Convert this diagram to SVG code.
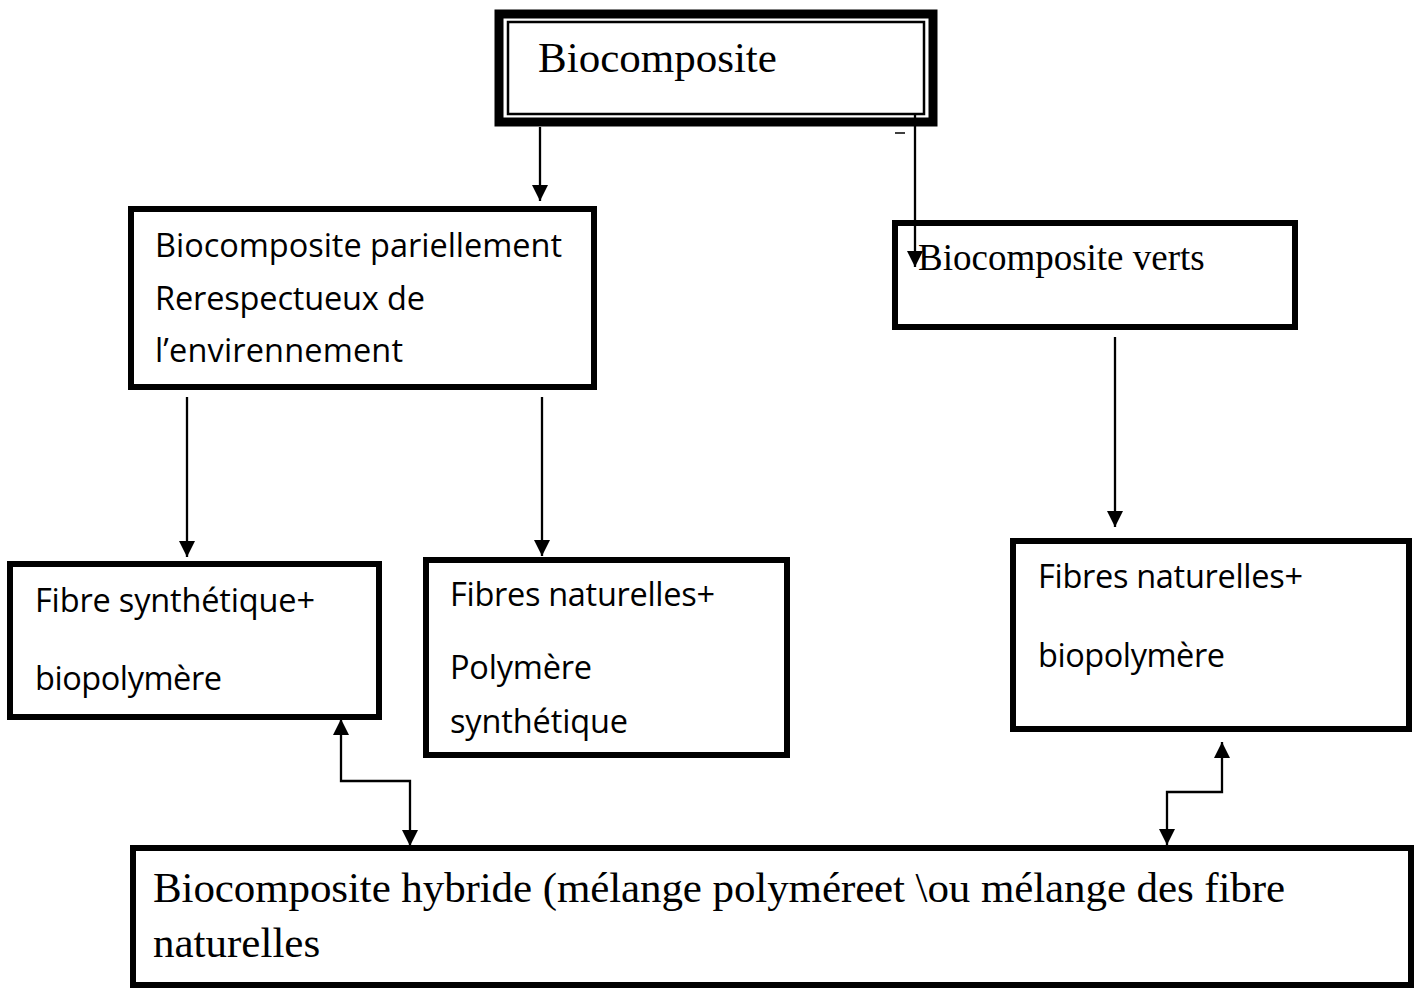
<svg xmlns="http://www.w3.org/2000/svg" width="1420" height="989" viewBox="0 0 1420 989">
<style>
.box{fill:#fff;stroke:#000;stroke-width:6}
.serif{font-family:"Liberation Serif","Times New Roman",serif;fill:#000}
.sans{font-family:"Open Sans","Noto Sans","Liberation Sans",sans-serif;font-size:32.5px;fill:#000}
.conn{fill:none;stroke:#000;stroke-width:2.3}
</style>
<defs>
<marker id="arr" viewBox="0 0 16 16" refX="16" refY="8" markerWidth="16" markerHeight="16" markerUnits="userSpaceOnUse" orient="auto-start-reverse">
<path d="M0,0 L16,8 L0,16 z" fill="#000"/>
</marker>
</defs>
<rect x="0" y="0" width="1420" height="989" fill="#fff"/>

<g id="node-biocomposite">
<rect x="499" y="14" width="434" height="108" fill="#fff" stroke="#000" stroke-width="9"/>
<rect x="508" y="22" width="416" height="92" fill="none" stroke="#000" stroke-width="2.5"/>
<text class="serif" x="538" y="72" font-size="43">Biocomposite</text>
</g>

<g id="node-partiel">
<rect class="box" x="131" y="209" width="463" height="178"/>
<text class="sans" x="155" y="257" textLength="407">Biocomposite pariellement</text>
<text class="sans" x="155" y="310" textLength="270">Rerespectueux de</text>
<text class="sans" x="155" y="362" textLength="248">l’envirennement</text>
</g>

<g id="node-verts">
<rect class="box" x="895" y="223" width="400" height="104"/>
<text class="serif" x="918" y="270" font-size="37">Biocomposite verts</text>
</g>

<g id="node-fibre-synth">
<rect class="box" x="10" y="564" width="369" height="153"/>
<text class="sans" x="35" y="612" textLength="280">Fibre synthétique+</text>
<text class="sans" x="35" y="690" textLength="187">biopolymère</text>
</g>

<g id="node-fibres-nat-synth">
<rect class="box" x="426" y="560" width="361" height="195"/>
<text class="sans" x="450" y="606" textLength="265">Fibres naturelles+</text>
<text class="sans" x="450" y="679" textLength="142">Polymère</text>
<text class="sans" x="450" y="733" textLength="178">synthétique</text>
</g>

<g id="node-fibres-nat-bio">
<rect class="box" x="1013" y="541" width="396" height="188"/>
<text class="sans" x="1038" y="588" textLength="265">Fibres naturelles+</text>
<text class="sans" x="1038" y="667" textLength="187">biopolymère</text>
</g>

<g id="node-hybride">
<rect class="box" x="133" y="848" width="1278" height="137"/>
<text class="serif" x="153" y="902" font-size="43" textLength="1132">Biocomposite hybride (mélange polyméreet \ou mélange des fibre</text>
<text class="serif" x="153" y="957" font-size="43">naturelles</text>
</g>

<g id="connectors">
<line class="conn" x1="540" y1="127" x2="540" y2="201" marker-end="url(#arr)"/>
<line class="conn" x1="915" y1="113" x2="915" y2="267" marker-end="url(#arr)"/>
<line x1="895" y1="133" x2="905" y2="133" stroke="#000" stroke-width="1.5"/>
<line class="conn" x1="187" y1="397" x2="187" y2="557" marker-end="url(#arr)"/>
<line class="conn" x1="542" y1="397" x2="542" y2="556" marker-end="url(#arr)"/>
<line class="conn" x1="1115" y1="337" x2="1115" y2="527" marker-end="url(#arr)"/>
<path class="conn" d="M341,719 V781 H410 V846" marker-start="url(#arr)" marker-end="url(#arr)"/>
<path class="conn" d="M1222,742 V792 H1167 V845" marker-start="url(#arr)" marker-end="url(#arr)"/>
</g>
</svg>
